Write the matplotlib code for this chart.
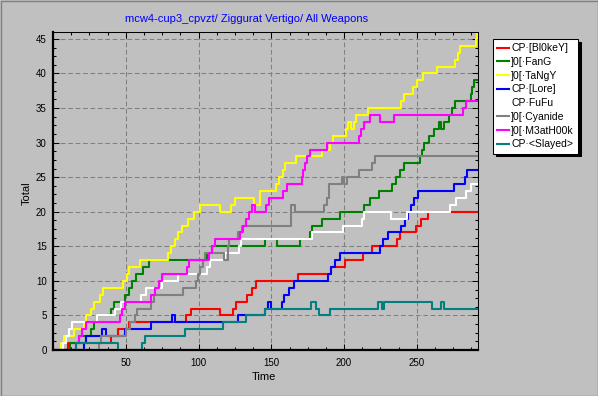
import matplotlib
matplotlib.use('Agg')
import matplotlib.pyplot as plt
from matplotlib.ticker import MultipleLocator
from matplotlib.patches import Rectangle

plt.rcParams['font.family'] = ['Liberation Sans', 'DejaVu Sans']

title = 'mcw4-cup3_cpvzt/ Ziggurat Vertigo/ All Weapons'
t_end = 292

# each series: time at which the score changes, and the new score
red_t = [0, 10, 40, 44.5, 52, 91.5, 94.5, 115, 123.5, 126, 133.5, 137, 139.5, 168, 191, 200.5,
         213, 219.5, 236.5, 238.5, 249.5, 252.5, 257.5]
red_v = [0, 1, 2, 3, 4, 5, 6, 5, 6, 7, 8, 9, 10, 11, 12, 13, 14, 15, 16, 17, 18, 19, 20]

green_t = [0, 12, 18, 26, 28, 30, 40, 42, 49.5, 52, 54.5, 57, 61.5, 66,
           106, 109.5, 145.5, 154, 170,
           176.5, 178, 184.5, 197, 213.5, 218, 224, 233, 235.5, 238.5, 241,
           252, 253.5, 255, 258, 262,
           265, 266.5, 268.5,
           272, 274, 276, 287, 288, 289.5]
green_v = [0, 1, 2, 3, 4, 5, 6, 7, 8, 9, 10, 11, 12, 13,
           14, 15, 16, 15, 16,
           17, 18, 19, 20, 21, 22, 23, 24, 25, 26, 27,
           28, 29, 30, 31, 32,
           33, 32, 33,
           34, 35, 36, 37, 38, 39]

yellow_t = [0, 5.5, 7.5, 14.5, 21, 23, 26, 28, 32, 34.5,
            48, 50.5, 52.5, 59.5, 79, 81, 83.5, 86, 88.5, 93,
            97, 101, 115, 122, 125, 138, 142, 153, 155, 158,
            159.5, 167, 185, 190, 192.5, 201.5, 203, 204.5, 206.5, 208,
            216.5, 239, 241, 247, 250, 254.5, 263.5, 276, 278, 279.5,
            290.5, 291]
yellow_v = [0, 1, 2, 3, 4, 5, 6, 7, 8, 9,
            10, 11, 12, 13, 14, 15, 16, 17, 18, 19,
            20, 21, 20, 21, 22, 21, 23, 24, 25, 26,
            27, 28, 29, 30, 31, 32, 33, 32, 33, 34,
            35, 36, 37, 38, 39, 40, 41, 42, 43, 44,
            45, 46]

blue_t = [0, 21, 22.5, 34, 36.5, 49.5, 67, 82,
          83.5, 127, 145.5, 148, 150, 157, 159, 162, 165.5, 189,
          191, 194, 197.5, 224.5, 227, 230, 239, 242, 244, 246,
          248, 250.5, 275.5, 283, 284.5]
blue_v = [0, 1, 2, 3, 2, 3, 4, 5,
          4, 5, 6, 7, 6, 7, 8, 9, 10, 11,
          12, 13, 14, 15, 16, 17, 18, 19, 20, 21,
          22, 23, 24, 25, 26]

white_t = [0, 7, 9, 11, 13, 30, 42.5, 46.5, 60.5, 64,
           75, 86, 106, 108, 118, 128, 129.5, 178, 199, 212,
           213.5, 232.5, 243, 273, 277, 284, 287]
white_v = [0, 1, 2, 3, 4, 5, 6, 7, 8, 9,
           10, 11, 12, 13, 14, 15, 16, 17, 18, 19,
           20, 19, 20, 21, 22, 23, 24]

gray_t = [0, 31.5, 33, 50, 53, 56, 57.5, 67, 69.5, 89,
          98.5, 99.5, 101, 103, 104.5, 117.5, 120, 121, 127, 130,
          163.5, 166.5, 186.5, 188, 189.5, 198.5, 200, 202,
          210.5, 219.5, 221.5]
gray_v = [0, 1, 2, 3, 4, 5, 6, 7, 8, 9,
          10, 11, 12, 13, 14, 13, 15, 16, 17, 18,
          21, 20, 21, 22, 24, 25, 24, 25,
          26, 27, 28]

magenta_t = [0, 16, 18, 20, 22.5, 46, 47.5, 49.5, 67.5, 70,
             72.5, 74.7, 92, 93.5, 107, 109, 111, 128.5, 130.5, 132.5,
             135, 137, 138.5, 146, 148.5, 158, 160.5, 171, 172, 173,
             174.5, 176.5, 188, 210, 211.5, 213.5, 217.5, 224.5, 234.5, 281.5,
             284]
magenta_v = [0, 1, 2, 3, 4, 5, 6, 7, 8, 9,
             10, 11, 12, 13, 14, 15, 16, 17, 18, 19,
             20, 21, 20, 21, 22, 23, 24, 25, 26, 27,
             28, 29, 30, 31, 32, 33, 34, 33, 34, 35,
             36]

teal_t = [0, 16, 45, 61, 63, 90.5, 116.5, 132.5, 145.5, 177.5,
          181, 183, 190, 223, 226, 227.5, 260.5, 266.5, 268.5]
teal_v = [0, 1, 0, 1, 2, 3, 4, 5, 6, 7,
          6, 5, 6, 7, 6, 7, 6, 7, 6]

names = ['CP·[Bl0keY]', ']0[·FanG', ']0[·TaNgY', 'CP·[Lore]',
         'CP·FuFu', ']0[·Cyanide', ']0[·M3atH00k', 'CP·<Slayed>']
colors = ['#ff0000', '#008000', '#ffff00', '#0000ff',
          '#ffffff', '#808080', '#ff00ff', '#008080']
series = [(red_t, red_v), (green_t, green_v), (yellow_t, yellow_v), (blue_t, blue_v),
          (white_t, white_v), (gray_t, gray_v), (magenta_t, magenta_v), (teal_t, teal_v)]

fig = plt.figure(figsize=(5.98, 3.96), dpi=100, facecolor='#c0c0c0')
ax = fig.add_axes([53 / 598, 1 - 350 / 396, 425 / 598, 318 / 396])
ax.set_facecolor('#c0c0c0')

for (t, v), name, c in zip(series, names, colors):
    ax.plot(t + [t_end], v + [v[-1]], drawstyle='steps-post', color=c, lw=1.5, label=name)

ax.set_xlim(0, t_end)
ax.set_ylim(0, 46)
ax.set_xticks([50, 100, 150, 200, 250])
ax.set_yticks(range(0, 46, 5))
ax.xaxis.set_minor_locator(MultipleLocator(12.5))
ax.yaxis.set_minor_locator(MultipleLocator(1.25))
ax.tick_params(which='both', direction='in', top=True, right=True, width=0.75, labelsize=7)
ax.tick_params(which='major', length=4)
ax.tick_params(which='minor', length=2.5)
ax.tick_params(axis='x', pad=5.5)
ax.tick_params(axis='y', pad=4.5)

ax.set_axisbelow(True)
ax.grid(True, which='major', color='#808080', linestyle=(0, (4.5, 2.6)), linewidth=0.75)

for side in ['left', 'bottom']:
    ax.spines[side].set_linewidth(1.6)
for side in ['top', 'right']:
    ax.spines[side].set_linewidth(0.75)

fig.text(246.5 / 598, 1 - 19.5 / 396, title, color='#0000ff', fontsize=8, ha='center', va='center')
fig.text(27 / 598, 1 - 193 / 396, 'Total', rotation=90, fontsize=8, ha='center', va='center')
fig.text(264 / 598, 1 - 377 / 396, 'Time', fontsize=8, ha='center', va='center')

leg = fig.legend(loc='upper left', bbox_to_anchor=(493 / 598, 1 - 39 / 396), fontsize=7.5,
                 fancybox=False, shadow={'color': 'black', 'alpha': 1}, edgecolor='black',
                 facecolor='white', framealpha=1, borderpad=0.4, labelspacing=0.36,
                 handlelength=1.1, handletextpad=0.25, borderaxespad=0)
leg.get_frame().set_linewidth(0.75)

fig.add_artist(Rectangle((0.5 / 598, 0.5 / 396), 597 / 598, 395 / 396, transform=fig.transFigure,
                         fill=False, edgecolor='#808080', lw=1))

fig.savefig('out.png', dpi=100, facecolor='#c0c0c0')
